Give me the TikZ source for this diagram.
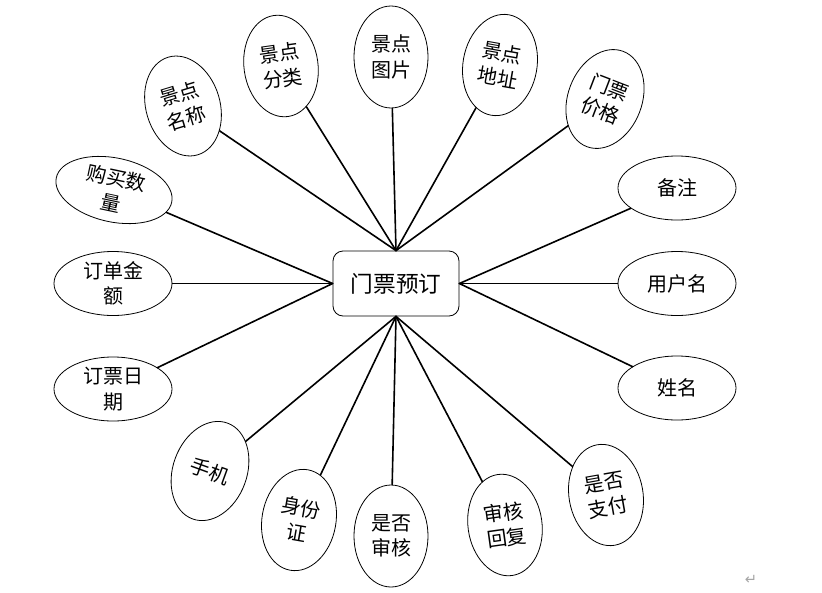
\documentclass[tikz,border=0pt]{standalone}
\usepackage{fontspec}
\newfontfamily\cjk{Noto Sans CJK SC}
\newfontfamily\symfont{DejaVu Sans}
\usetikzlibrary{shapes.geometric}

\begin{document}
\begin{tikzpicture}[x=0.75pt,y=-0.75pt,line join=round,line cap=round,font=\cjk\fontsize{15}{19}\selectfont]
	\tikzset{
		attr/.style={draw,ellipse,line width=0.6pt,inner sep=-20pt,align=center},
		tall/.style={attr,minimum width=55.5pt,minimum height=76.5pt},
		wide/.style={attr,minimum width=88.5pt,minimum height=48pt},
		link/.style={line width=1.2pt}
	}
	\useasboundingbox (0,0) rectangle (822,593);
	% central entity
	\node [draw,rounded corners=7.5pt,line width=0.6pt,minimum width=94.5pt,minimum height=48.75pt,font=\cjk\fontsize{17}{20}\selectfont] (order) at (396,283.5) {门票预订};
	% attributes above the box
	\foreach \n/\x/\y/\r/\t in {mc/183/106/17/{景点\\名称},fl/281/66/8/{景点\\分类},tp/391/57/0/{景点\\图片},dz/500/65/-10/{景点\\地址},jg/605/99/-21/{门票\\价格}}{
		\node [tall,rotate=\r] (\n) at (\x,\y) {\t};
		\draw [link] (order.north)--(\n);
	}
	% attributes below the box
	\foreach \n/\x/\y/\r/\t in {sj/210/471/-20/{手机},sfz/299/520/-10/{身份\\证},sh/391/536/0/{是否\\审核},hf/505/525/8/{审核\\回复},zf/606/495/10/{是否\\支付}}{
		\node [tall,rotate=\r] (\n) at (\x,\y) {\t};
		\draw [link] (order.south)--(\n);
	}
	% attributes on the left
	\foreach \n/\x/\y/\r/\t in {sl/114/190/-12/{购买数\\量},je/113/283.5/0/{订单金\\额},rq/113/389/0/{订票日\\期}}{
		\node [wide,rotate=\r] (\n) at (\x,\y) {\t};
		\draw [link] (order.west)--(\n);
	}
	% attributes on the right
	\foreach \n/\x/\y/\t in {bz/677/188/{备注},yhm/677/283.5/{用户名},xm/677/388/{姓名}}{
		\node [wide] (\n) at (\x,\y) {\t};
		\draw [link] (order.east)--(\n);
	}
	\node [text=gray!70,font=\symfont\fontsize{11}{12}\selectfont] (mark) at (751,580) {↵};
\end{tikzpicture}
\end{document}
